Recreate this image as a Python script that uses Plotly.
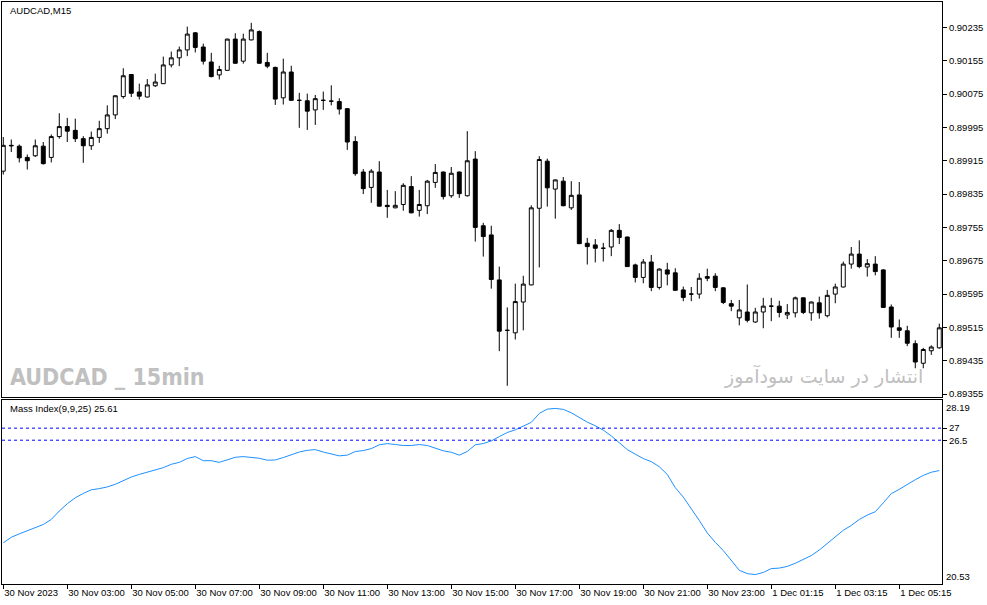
import plotly.graph_objects as go

# AUDCAD M15 candles, 30 Nov 2023 01:00 -> 1 Dec 2023 06:30
open_ = [0.89890, 0.89952, 0.89950, 0.89923, 0.89927, 0.89950, 0.89923, 0.89973, 0.89997, 0.89988,
         0.89968, 0.89951, 0.89971, 0.89992, 0.90025, 0.90069, 0.90122, 0.90080, 0.90068, 0.90095,
         0.90100, 0.90145, 0.90162, 0.90181, 0.90222, 0.90188, 0.90152, 0.90121, 0.90132, 0.90207,
         0.90154, 0.90205, 0.90225, 0.90151, 0.90139, 0.90066, 0.90128, 0.90060, 0.90059, 0.90037,
         0.90060, 0.90058, 0.90057, 0.90040, 0.89961, 0.89888, 0.89851, 0.89888, 0.89808, 0.89802,
         0.89810, 0.89853, 0.89796, 0.89807, 0.89863, 0.89888, 0.89831, 0.89888, 0.89831, 0.89919,
         0.89759, 0.89737, 0.89629, 0.89508, 0.89502, 0.89576, 0.89617, 0.89801, 0.89914, 0.89847,
         0.89866, 0.89802, 0.89833, 0.89717, 0.89713, 0.89705, 0.89708, 0.89748, 0.89732, 0.89665,
         0.89635, 0.89672, 0.89611, 0.89653, 0.89646, 0.89605, 0.89595, 0.89595, 0.89637, 0.89638,
         0.89610, 0.89572, 0.89538, 0.89552, 0.89528, 0.89552, 0.89566, 0.89566, 0.89545, 0.89550,
         0.89586, 0.89550, 0.89574, 0.89543, 0.89595, 0.89612, 0.89667, 0.89691, 0.89660, 0.89667,
         0.89653, 0.89564, 0.89514, 0.89507, 0.89476, 0.89429, 0.89459, 0.89466]

high_ = [0.89972, 0.89966, 0.89954, 0.89930, 0.89966, 0.89960, 0.89978, 0.90029, 0.90018, 0.90016,
         0.89974, 0.89985, 0.90011, 0.90048, 0.90072, 0.90137, 0.90123, 0.90100, 0.90111, 0.90124,
         0.90165, 0.90177, 0.90189, 0.90237, 0.90224, 0.90196, 0.90174, 0.90143, 0.90208, 0.90221,
         0.90220, 0.90246, 0.90228, 0.90174, 0.90141, 0.90160, 0.90143, 0.90078, 0.90076, 0.90073,
         0.90081, 0.90096, 0.90065, 0.90041, 0.89974, 0.89895, 0.89895, 0.89914, 0.89845, 0.89842,
         0.89861, 0.89878, 0.89845, 0.89869, 0.89907, 0.89889, 0.89900, 0.89889, 0.89986, 0.89938,
         0.89766, 0.89759, 0.89661, 0.89563, 0.89620, 0.89639, 0.89808, 0.89926, 0.89920, 0.89870,
         0.89876, 0.89866, 0.89864, 0.89730, 0.89727, 0.89718, 0.89751, 0.89763, 0.89733, 0.89668,
         0.89679, 0.89689, 0.89657, 0.89670, 0.89657, 0.89613, 0.89612, 0.89645, 0.89656, 0.89645,
         0.89612, 0.89581, 0.89581, 0.89618, 0.89562, 0.89586, 0.89586, 0.89579, 0.89571, 0.89589,
         0.89587, 0.89577, 0.89589, 0.89605, 0.89620, 0.89673, 0.89708, 0.89724, 0.89679, 0.89686,
         0.89655, 0.89570, 0.89534, 0.89519, 0.89484, 0.89466, 0.89472, 0.89524]

low_ = [0.89882, 0.89936, 0.89911, 0.89894, 0.89924, 0.89906, 0.89911, 0.89968, 0.89960, 0.89960,
        0.89910, 0.89941, 0.89958, 0.89980, 0.90015, 0.90064, 0.90068, 0.90062, 0.90067, 0.90092,
        0.90099, 0.90139, 0.90142, 0.90166, 0.90175, 0.90146, 0.90115, 0.90110, 0.90131, 0.90148,
        0.90148, 0.90204, 0.90148, 0.90137, 0.90049, 0.90050, 0.90059, 0.89994, 0.89989, 0.90001,
        0.90037, 0.90048, 0.90026, 0.89941, 0.89879, 0.89835, 0.89814, 0.89805, 0.89778, 0.89801,
        0.89795, 0.89789, 0.89781, 0.89787, 0.89850, 0.89822, 0.89826, 0.89826, 0.89829, 0.89721,
        0.89685, 0.89608, 0.89458, 0.89375, 0.89486, 0.89508, 0.89616, 0.89659, 0.89805, 0.89776,
        0.89806, 0.89797, 0.89715, 0.89666, 0.89671, 0.89673, 0.89686, 0.89715, 0.89660, 0.89623,
        0.89621, 0.89602, 0.89606, 0.89616, 0.89603, 0.89578, 0.89578, 0.89584, 0.89626, 0.89602,
        0.89571, 0.89554, 0.89520, 0.89527, 0.89526, 0.89513, 0.89530, 0.89539, 0.89535, 0.89539,
        0.89547, 0.89531, 0.89536, 0.89539, 0.89573, 0.89611, 0.89656, 0.89657, 0.89637, 0.89640,
        0.89562, 0.89490, 0.89490, 0.89470, 0.89417, 0.89417, 0.89449, 0.89464]

close_ = [0.89952, 0.89951, 0.89922, 0.89915, 0.89951, 0.89908, 0.89973, 0.89997, 0.89986, 0.89968,
          0.89951, 0.89971, 0.89992, 0.90025, 0.90071, 0.90119, 0.90077, 0.90070, 0.90097, 0.90104,
          0.90145, 0.90162, 0.90181, 0.90219, 0.90187, 0.90154, 0.90117, 0.90134, 0.90207, 0.90149,
          0.90207, 0.90229, 0.90149, 0.90142, 0.90063, 0.90128, 0.90060, 0.90060, 0.90034, 0.90064,
          0.90060, 0.90058, 0.90039, 0.89960, 0.89884, 0.89848, 0.89890, 0.89806, 0.89805, 0.89808,
          0.89856, 0.89790, 0.89810, 0.89866, 0.89887, 0.89829, 0.89885, 0.89836, 0.89915, 0.89755,
          0.89733, 0.89630, 0.89506, 0.89508, 0.89577, 0.89619, 0.89802, 0.89918, 0.89850, 0.89869,
          0.89807, 0.89832, 0.89716, 0.89709, 0.89705, 0.89705, 0.89748, 0.89731, 0.89661, 0.89635,
          0.89672, 0.89611, 0.89655, 0.89643, 0.89604, 0.89587, 0.89595, 0.89633, 0.89633, 0.89611,
          0.89575, 0.89566, 0.89557, 0.89532, 0.89552, 0.89566, 0.89566, 0.89551, 0.89551, 0.89586,
          0.89551, 0.89576, 0.89550, 0.89592, 0.89612, 0.89667, 0.89691, 0.89661, 0.89668, 0.89649,
          0.89563, 0.89516, 0.89508, 0.89477, 0.89432, 0.89462, 0.89468, 0.89514]

# Mass Index(9,9,25)
mass_index = [22.24, 22.47, 22.61, 22.75, 22.86, 23.00, 23.21, 23.56, 23.86, 24.11,
              24.29, 24.44, 24.49, 24.56, 24.67, 24.83, 24.97, 25.08, 25.17, 25.24,
              25.36, 25.50, 25.58, 25.74, 25.82, 25.65, 25.65, 25.58, 25.68, 25.79,
              25.82, 25.79, 25.75, 25.67, 25.68, 25.78, 25.90, 26.01, 26.08, 26.11,
              26.01, 25.92, 25.85, 25.88, 26.03, 26.07, 26.15, 26.31, 26.36, 26.32,
              26.28, 26.28, 26.32, 26.28, 26.18, 26.06, 26.00, 25.88, 26.03, 26.31,
              26.36, 26.47, 26.65, 26.82, 26.93, 27.07, 27.24, 27.61, 27.79, 27.82,
              27.78, 27.64, 27.44, 27.25, 27.10, 26.92, 26.68, 26.40, 26.11, 25.92,
              25.74, 25.61, 25.40, 25.08, 24.53, 24.14, 23.67, 23.17, 22.65, 22.26,
              21.92, 21.51, 21.10, 20.96, 20.92, 21.01, 21.17, 21.19, 21.26, 21.39,
              21.56, 21.71, 21.94, 22.22, 22.47, 22.76, 22.96, 23.21, 23.39, 23.53,
              23.90, 24.28, 24.46, 24.67, 24.86, 25.04, 25.17, 25.24]

levels = [27, 26.5]
mi_max, mi_min = 28.19, 20.53

time_tick_bars = [0, 8, 16, 24, 32, 40, 48, 56, 64, 72, 80, 88, 96, 104, 112]
time_labels = ["30 Nov 2023", "30 Nov 03:00", "30 Nov 05:00", "30 Nov 07:00", "30 Nov 09:00",
               "30 Nov 11:00", "30 Nov 13:00", "30 Nov 15:00", "30 Nov 17:00", "30 Nov 19:00",
               "30 Nov 21:00", "30 Nov 23:00", "1 Dec 01:15", "1 Dec 03:15", "1 Dec 05:15"]
price_ticks = [0.89355, 0.89435, 0.89515, 0.89595, 0.89675, 0.89755, 0.89835,
               0.89915, 0.89995, 0.90075, 0.90155, 0.90235]

bars = list(range(len(close_)))
font = "Liberation Sans, Arial, sans-serif"
fs = 9.5

fig = go.Figure()

fig.add_trace(go.Candlestick(
    x=bars, open=open_, high=high_, low=low_, close=close_,
    increasing=dict(line=dict(color='black', width=1), fillcolor='white'),
    decreasing=dict(line=dict(color='black', width=1), fillcolor='black'),
    whiskerwidth=0, showlegend=False, hoverinfo='skip',
    xaxis='x', yaxis='y'))

fig.add_trace(go.Scatter(
    x=bars, y=mass_index, mode='lines', line=dict(color='#1E90FF', width=1),
    showlegend=False, xaxis='x2', yaxis='y2'))

# niveis do indicador
for lv in levels:
    fig.add_shape(type='line', xref='x2 domain', yref='y2', x0=0, x1=1, y0=lv, y1=lv,
                  line=dict(color='#0000FF', width=1, dash='3px,3px'))

axis_common = dict(showline=True, mirror=True, linecolor='black', linewidth=1,
                   showgrid=False, zeroline=False, fixedrange=True, automargin=False)

fig.update_layout(
    width=987, height=605,
    margin=dict(l=2, r=45, t=2, b=21),
    paper_bgcolor='white', plot_bgcolor='white',
    font=dict(family=font, size=fs, color='black'),
    xaxis=dict(domain=[0, 1], range=[-0.16, 117.34], anchor='y', showticklabels=False,
               ticks='', rangeslider=dict(visible=False), **axis_common),
    xaxis2=dict(domain=[0, 1], matches='x', anchor='y2', tickvals=time_tick_bars,
                ticktext=time_labels, ticks='outside', ticklen=4, tickcolor='black',
                tickangle=0, ticklabelposition='outside right', tickfont=dict(size=fs),
                **axis_common),
    yaxis=dict(domain=[0.3213, 1], range=[0.89348, 0.90296], anchor='x', side='right',
               tickvals=price_ticks, tickformat='.5f', ticks='outside', ticklen=4,
               tickcolor='black', tickfont=dict(size=fs), **axis_common),
    yaxis2=dict(domain=[0, 0.317], range=[mi_min, mi_max], anchor='x2', side='right',
                tickvals=levels, ticktext=[str(v) for v in levels], ticks='outside',
                ticklen=4, tickcolor='black', tickfont=dict(size=fs), **axis_common),
)

annots = [
    dict(text="AUDCAD,M15", x=0.0064, y=0.986, xanchor='left', yanchor='middle',
         font=dict(size=fs, color='black')),
    dict(text="Mass Index(9,9,25) 25.61", x=0.0064, y=0.3024, xanchor='left', yanchor='middle',
         font=dict(size=fs, color='black')),
    dict(text="<b>AUDCAD _ 15min</b>", x=0.0064, y=0.355, xanchor='left', yanchor='middle',
         font=dict(size=23, color='#C0C0C0', family="Liberation Sans Narrow, DejaVu Sans Condensed, Arial Narrow, sans-serif")),
    dict(text="انتشار در سایت سودآموز", x=0.982, y=0.358, xanchor='right', yanchor='middle',
         font=dict(size=19, color='#C0C0C0', family="DejaVu Sans, Noto Sans, sans-serif")),
]
for a in annots:
    fig.add_annotation(xref='paper', yref='paper', showarrow=False, **a)

# max/min da janela do indicador
fig.add_annotation(text=str(mi_max), xref='paper', yref='y2', x=1, y=mi_max, xanchor='left',
                   yanchor='top', xshift=2, showarrow=False, font=dict(size=fs))
fig.add_annotation(text=str(mi_min), xref='paper', yref='y2', x=1, y=mi_min, xanchor='left',
                   yanchor='bottom', xshift=2, showarrow=False, font=dict(size=fs))

# a pagina tem margem de 8px por padrao
fig.write_html("out.html", config={'displayModeBar': False},
               post_script="document.body.style.margin='0px';")
